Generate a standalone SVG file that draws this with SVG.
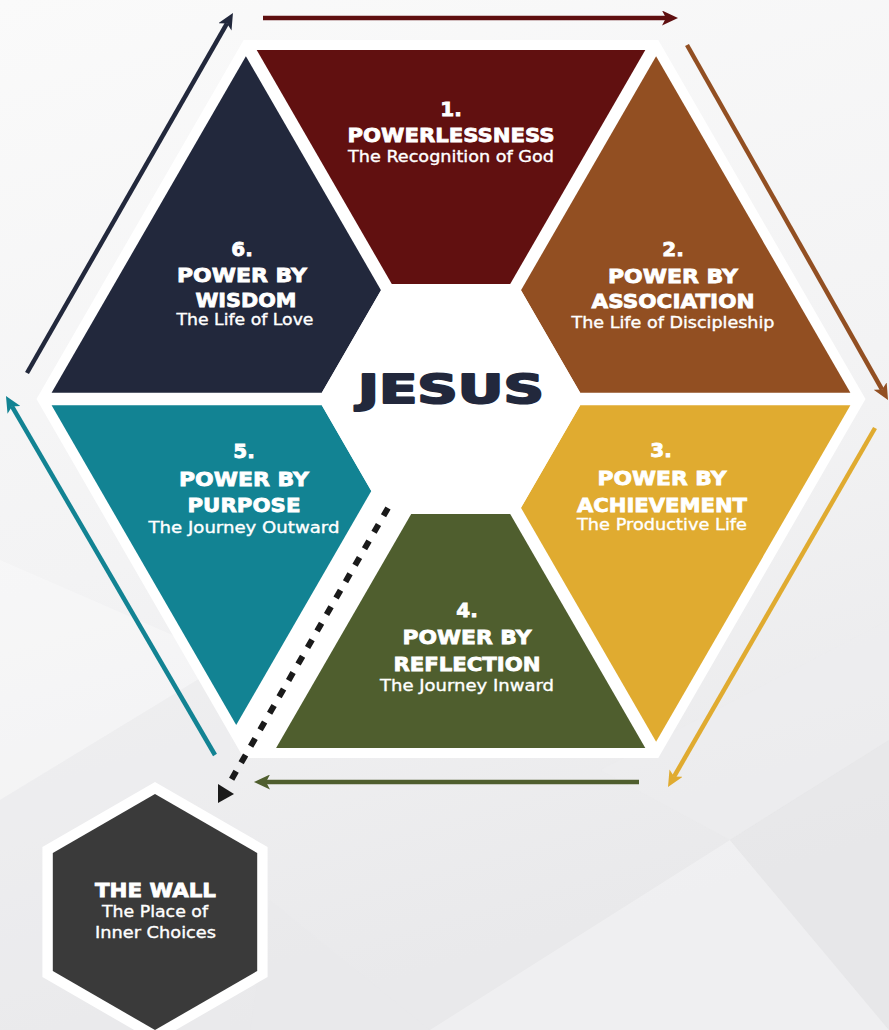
<svg xmlns="http://www.w3.org/2000/svg" width="889" height="1030" viewBox="0 0 889 1030">
<style>
.t{font-family:"DejaVu Sans","Liberation Sans",sans-serif;fill:#ffffff;text-anchor:middle}
.n{font-weight:700;font-size:20px;stroke:#ffffff;stroke-width:0.8}
.b{font-weight:700;font-size:20px;stroke:#ffffff;stroke-width:0.8}
.s{font-weight:400;font-size:15px;stroke:#ffffff;stroke-width:0.35}
.arrow{fill:none;stroke-width:4.5;stroke-linecap:butt}
</style>
<defs>
<linearGradient id="bgGrad" x1="0" y1="0" x2="0.25" y2="1">
<stop offset="0" stop-color="#fafafa"/>
<stop offset="0.55" stop-color="#f3f3f4"/>
<stop offset="1" stop-color="#e9e9eb"/>
</linearGradient>
<marker id="ahRed" viewBox="0 0 16 15" markerWidth="16" markerHeight="15" refX="4" refY="7.5" orient="auto" markerUnits="userSpaceOnUse"><path d="M0,0 L16,7.5 L0,15 L4,7.5 z" fill="#5f0f10"/></marker>
<marker id="ahBrown" viewBox="0 0 16 15" markerWidth="16" markerHeight="15" refX="4" refY="7.5" orient="auto" markerUnits="userSpaceOnUse"><path d="M0,0 L16,7.5 L0,15 L4,7.5 z" fill="#924f22"/></marker>
<marker id="ahGold" viewBox="0 0 16 15" markerWidth="16" markerHeight="15" refX="4" refY="7.5" orient="auto" markerUnits="userSpaceOnUse"><path d="M0,0 L16,7.5 L0,15 L4,7.5 z" fill="#e0ab30"/></marker>
<marker id="ahOlive" viewBox="0 0 16 15" markerWidth="16" markerHeight="15" refX="4" refY="7.5" orient="auto" markerUnits="userSpaceOnUse"><path d="M0,0 L16,7.5 L0,15 L4,7.5 z" fill="#4f5e2e"/></marker>
<marker id="ahTeal" viewBox="0 0 16 15" markerWidth="16" markerHeight="15" refX="4" refY="7.5" orient="auto" markerUnits="userSpaceOnUse"><path d="M0,0 L16,7.5 L0,15 L4,7.5 z" fill="#128393"/></marker>
<marker id="ahNavy" viewBox="0 0 16 15" markerWidth="16" markerHeight="15" refX="4" refY="7.5" orient="auto" markerUnits="userSpaceOnUse"><path d="M0,0 L16,7.5 L0,15 L4,7.5 z" fill="#22283c"/></marker>
</defs>

<g id="background">
<rect x="0" y="0" width="889" height="1030" fill="url(#bgGrad)"/>
<polygon points="0,560 230,660 0,800" fill="#ffffff" opacity="0.3"/>
<polygon points="0,800 230,660 230,1030 0,1030" fill="#ececee" opacity="0.4"/>
<polygon points="430,1030 730,840 889,1030" fill="#ffffff" opacity="0.3"/>
<polygon points="730,840 889,740 889,1030" fill="#e6e6e8" opacity="0.5"/>
<polygon points="600,770 889,620 889,740 730,840" fill="#eeeef0" opacity="0.5"/>
<polygon points="270,900 430,1030 250,1030" fill="#e8e8ea" opacity="0.4"/>
</g>

<g id="frame">
<polygon points="36.5,399 243.7,40 658.3,40 865.5,399 658.3,758 243.7,758" fill="#ffffff"/>
</g>

<g id="node-1">
<polygon points="256.7,50 645.3,50 510.2,284 391.8,284" fill="#611010"/>
<text class="t n" x="451" y="116">1.</text>
<text class="t b" x="451" y="142" textLength="207" lengthAdjust="spacingAndGlyphs">POWERLESSNESS</text>
<text class="t s" x="451" y="162" textLength="206" lengthAdjust="spacingAndGlyphs">The Recognition of God</text>
</g>

<g id="node-2">
<polygon points="656.1,56.2 850.4,392.75 580.2,392.75 521,290.2" fill="#924f22"/>
<text class="t n" x="673" y="256">2.</text>
<text class="t b" x="673" y="283" textLength="130" lengthAdjust="spacingAndGlyphs">POWER BY</text>
<text class="t b" x="673" y="308" textLength="163" lengthAdjust="spacingAndGlyphs">ASSOCIATION</text>
<text class="t s" x="673" y="328" textLength="203" lengthAdjust="spacingAndGlyphs">The Life of Discipleship</text>
</g>

<g id="node-3">
<polygon points="580.2,405.25 850.4,405.25 656.1,741.8 521,507.8" fill="#e0ab30"/>
<text class="t n" x="661" y="457">3.</text>
<text class="t b" x="662" y="485" textLength="129" lengthAdjust="spacingAndGlyphs">POWER BY</text>
<text class="t b" x="662" y="512" textLength="170" lengthAdjust="spacingAndGlyphs">ACHIEVEMENT</text>
<text class="t s" x="662" y="530" textLength="170" lengthAdjust="spacingAndGlyphs">The Productive Life</text>
</g>

<g id="node-4">
<polygon points="411.2,514 510.2,514 645.3,748 276.1,748" fill="#4f5e2e"/>
<text class="t n" x="467" y="617">4.</text>
<text class="t b" x="467" y="644" textLength="129" lengthAdjust="spacingAndGlyphs">POWER BY</text>
<text class="t b" x="467" y="671" textLength="147" lengthAdjust="spacingAndGlyphs">REFLECTION</text>
<text class="t s" x="467" y="691" textLength="174" lengthAdjust="spacingAndGlyphs">The Journey Inward</text>
</g>

<g id="node-5">
<polygon points="51.6,405.25 321.8,405.25 371.3,491 236.2,725" fill="#128393"/>
<text class="t n" x="244" y="458">5.</text>
<text class="t b" x="244" y="486" textLength="130" lengthAdjust="spacingAndGlyphs">POWER BY</text>
<text class="t b" x="244" y="512" textLength="113" lengthAdjust="spacingAndGlyphs">PURPOSE</text>
<text class="t s" x="244" y="533" textLength="191" lengthAdjust="spacingAndGlyphs">The Journey Outward</text>
</g>

<g id="node-6">
<polygon points="245.9,56.2 381,290.2 321.8,392.75 51.6,392.75" fill="#22283c"/>
<text class="t n" x="242" y="256">6.</text>
<text class="t b" x="242" y="282" textLength="130" lengthAdjust="spacingAndGlyphs">POWER BY</text>
<text class="t b" x="246" y="307" textLength="101" lengthAdjust="spacingAndGlyphs">WISDOM</text>
<text class="t s" x="245" y="325" textLength="137" lengthAdjust="spacingAndGlyphs">The Life of Love</text>
</g>

<g id="node-jesus">
<polygon points="318.2,399 384.6,284 517.4,284 583.8,399 517.4,514 384.6,514" fill="#ffffff"/>
<text x="451" y="403" font-family="DejaVu Sans, Liberation Sans, sans-serif" font-weight="700" font-size="39" fill="#22283c" stroke="#22283c" stroke-width="2" stroke-linejoin="round" text-anchor="middle" textLength="186" lengthAdjust="spacingAndGlyphs">JESUS</text>
</g>

<g id="node-wall">
<polygon points="155,782 267.6,847 267.6,977 155,1042 42.4,977 42.4,847" fill="#ffffff"/>
<polygon points="155,794 257.2,853 257.2,971 155,1030 52.8,971 52.8,853" fill="#3a3a3a"/>
<text class="t b" x="155.5" y="897" textLength="121" lengthAdjust="spacingAndGlyphs">THE WALL</text>
<text class="t s" x="155" y="917" textLength="106" lengthAdjust="spacingAndGlyphs">The Place of</text>
<text class="t s" x="155.5" y="938" textLength="121" lengthAdjust="spacingAndGlyphs">Inner Choices</text>
</g>

<g id="connectors">
<line class="arrow" x1="263" y1="18" x2="666" y2="18" stroke="#5f0f10" marker-end="url(#ahRed)"/>
<line class="arrow" x1="687" y1="45" x2="882.1" y2="389.6" stroke="#924f22" marker-end="url(#ahBrown)"/>
<line class="arrow" x1="875" y1="428" x2="674" y2="776.6" stroke="#e0ab30" marker-end="url(#ahGold)"/>
<line class="arrow" x1="639" y1="782" x2="266" y2="782" stroke="#4f5e2e" marker-end="url(#ahOlive)"/>
<line class="arrow" x1="215" y1="755" x2="12" y2="406.4" stroke="#128393" marker-end="url(#ahTeal)"/>
<line class="arrow" x1="27" y1="373" x2="227" y2="23.4" stroke="#22283c" marker-end="url(#ahNavy)"/>
<line x1="388" y1="508" x2="230" y2="782" stroke="#1a1a1a" stroke-width="6" stroke-dasharray="9 10" fill="none"/>
<polygon points="218,784 234,794 218,803" fill="#1a1a1a"/>
</g>
</svg>
